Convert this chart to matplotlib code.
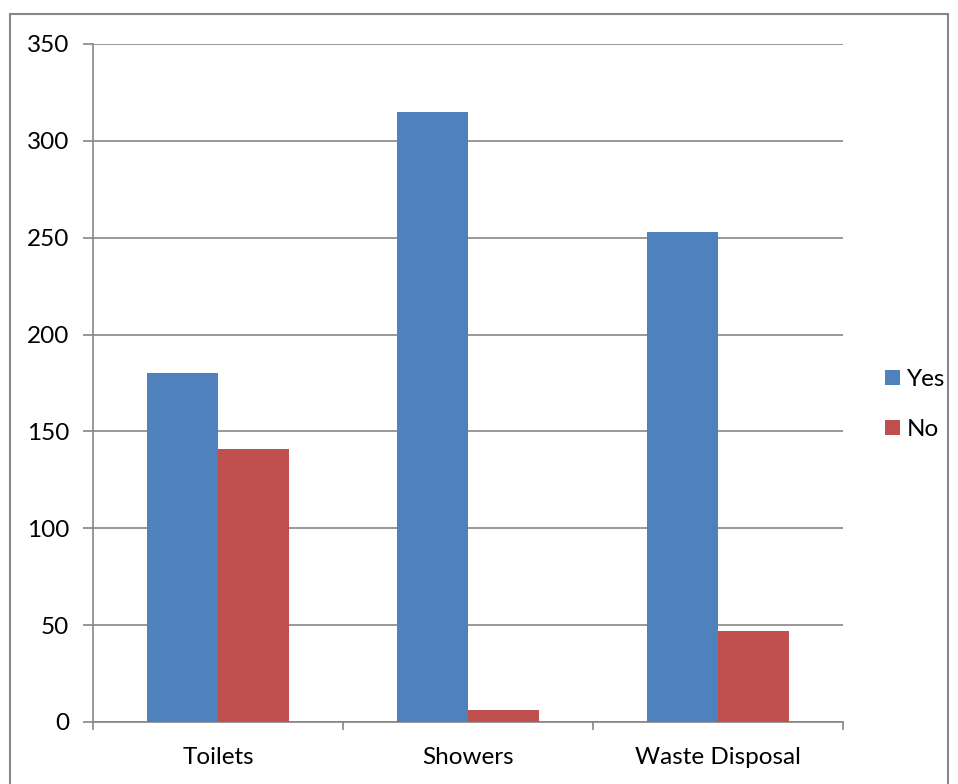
import matplotlib
matplotlib.use("Agg")
import matplotlib.pyplot as plt
from matplotlib.patches import Rectangle
import numpy as np

categories = ["Toilets", "Showers", "Waste Disposal"]
yes_values = [180, 315, 253]
no_values = [141, 6, 47]
series_names = ["Yes", "No"]
y_ticks = [0, 50, 100, 150, 200, 250, 300, 350]

plt.rcParams['font.family'] = ['Lato', 'DejaVu Sans']
W, H = 958, 784
FS = 17.5
fig = plt.figure(figsize=(W / 100, H / 100), dpi=100)

# outer chart border
fig.patches.append(Rectangle((10 / W, -0.05), (948 - 10) / W, (H - 14) / H + 0.05,
                             transform=fig.transFigure, fill=False,
                             edgecolor='#868686', linewidth=1.5))

ax = fig.add_axes([93 / W, (H - 722) / H, (843 - 93) / W, (722 - 44) / H])
x = np.arange(len(categories))
bw = 1 / 3.5
blue = '#4F81BD'
red = '#C0504D'
ax.bar(x - bw / 2, yes_values, bw, color=blue, label=series_names[0], zorder=3)
ax.bar(x + bw / 2, no_values, bw, color=red, label=series_names[1], zorder=3)

ax.set_xlim(-0.5, len(categories) - 0.5)
ax.set_ylim(0, 350)
ax.set_yticks(y_ticks)
ax.set_yticklabels([str(v) for v in y_ticks], fontsize=FS)
ax.yaxis.grid(True, color='#868686', linewidth=1.2, zorder=0)
ax.set_axisbelow(True)

ax.set_xticks(np.arange(len(categories) + 1) - 0.5)
ax.set_xticklabels([])
ax.set_xticks(x, minor=True)
ax.set_xticklabels(categories, minor=True, fontsize=FS)
ax.tick_params(axis='x', which='minor', length=0, pad=18)
ax.tick_params(axis='x', which='major', length=6, color='#868686', width=1.2, direction='out')
ax.tick_params(axis='y', length=7, color='#868686', width=1.2, direction='out', pad=10)

for s in ['top', 'right']:
    ax.spines[s].set_visible(False)
for s in ['left', 'bottom']:
    ax.spines[s].set_color('#868686')
    ax.spines[s].set_linewidth(1.2)

leg = ax.legend(loc='center left', bbox_to_anchor=(1.027, 0.468), frameon=False,
                fontsize=FS, handlelength=0.6, handleheight=0.6, handletextpad=0.3,
                labelspacing=1.2)

fig.savefig("out.png", dpi=100)
